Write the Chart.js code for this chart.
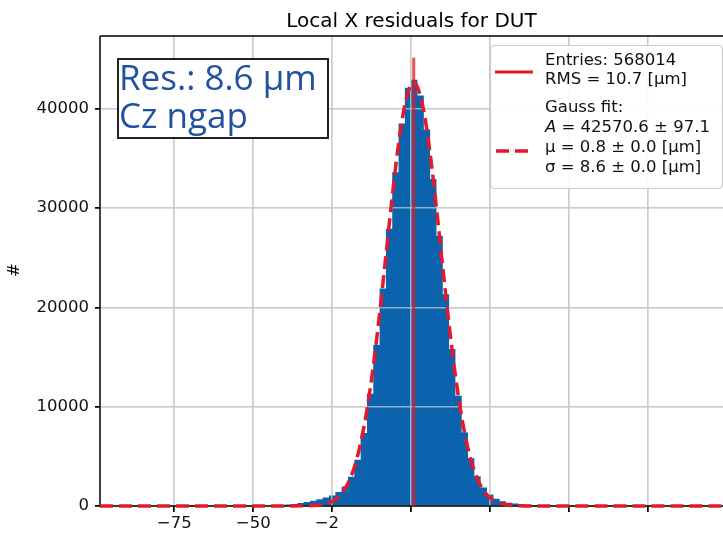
<!DOCTYPE html>
<html>
<head>
<meta charset="utf-8">
<title>Local X residuals for DUT</title>
<script src="https://cdn.jsdelivr.net/npm/chart.js@4.4.1/dist/chart.umd.min.js"></script>
<style>
html, body { margin: 0; padding: 0; background: #fff; }
canvas { display: block; }
</style>
</head>
<body>
<canvas id="resChart" width="723" height="535"></canvas>
<script>
// histogram, 2 um bins (centres) and counts
const binCenters = [-47, -45, -43, -41, -39, -37, -35, -33, -31, -29, -27, -25, -23, -21, -19, -17,
    -15, -13, -11, -9, -7, -5, -3, -1, 1, 3, 5, 7, 9, 11, 13, 15,
    17, 19, 21, 23, 25, 27, 29, 31, 33, 35, 37, 39, 41, 43, 45, 47];
const binCounts = [0, 30, 60, 100, 150, 210, 290, 390, 520, 680, 850, 1050, 1400, 1950, 2950, 4650,
    7350, 11300, 16200, 21900, 27900, 33600, 38500, 42100, 42900, 41300, 37900, 32900, 27200, 21300, 15800, 11100,
    7400, 4800, 3000, 1850, 1150, 720, 470, 330, 240, 170, 115, 75, 45, 25, 12, 0];

// gauss fit (dashed red)
const fitX = [-98.5, -40, -34, -32, -30, -28, -26, -24, -22, -20, -18, -16, -14, -12, -10, -8, -6, -4, -2,
    0, 1, 2, 4, 6, 8, 10, 12, 14, 16, 18, 20, 22, 24, 26, 28, 30, 32, 34, 40, 98.7];
const fitY = [0, 0, 15, 35, 70, 155, 330, 670, 1270, 2290, 3900, 6320, 9680, 14060, 19350, 25220, 31140, 36430, 40370,
    42400, 42570, 42150, 39720, 35460, 29990, 24020, 18230, 13110, 8930, 5760, 3520, 2040, 1120, 580, 290, 135, 60, 25, 0, 0];

// mean marker
const meanX = 0.8;
const meanTop = 45100;

const xRange = [-98.5, 98.7];
const yRange = [0, 47300];
const xTicks = [-75, -50, -25, 0, 25, 50, 75];
const yTicks = [0, 10000, 20000, 30000, 40000];

const legendEntries = ["Entries: 568014", "RMS = 10.7 [μm]"];
const legendFit = ["Gauss fit:", "A", " = 42570.6 ± 97.1", "μ = 0.8 ± 0.0 [μm]", "σ = 8.6 ± 0.0 [μm]"];
const noteLines = ["Res.: 8.6 μm", "Cz ngap"];

const BLUE = "#0b63ae";
const RED = "#e3192c";
const FONT = "DejaVu Sans";

const histData = binCenters.map((x, i) => ({ x: x, y: binCounts[i] }));
const fitData = fitX.map((x, i) => ({ x: x, y: fitY[i] }));

// grid + frame on top of the histogram (matplotlib draws it over the bars here)
const frameAndGrid = {
    id: "frameAndGrid",
    afterDatasetDraw(chart, args) {
        if (args.index !== 2) return;
        const ctx = chart.ctx;
        const a = chart.chartArea;
        chart.scales.x.drawGrid(a);
        chart.scales.y.drawGrid(a);
        ctx.save();
        ctx.strokeStyle = "#000";
        ctx.lineWidth = 1.5;
        ctx.beginPath();
        ctx.moveTo(a.left, a.top);
        ctx.lineTo(a.right, a.top);
        ctx.moveTo(a.left, a.top);
        ctx.lineTo(a.left, a.bottom);
        ctx.lineTo(a.right, a.bottom);
        ctx.stroke();
        ctx.restore();
    },
    afterDraw(chart) {
        const ctx = chart.ctx;
        const a = chart.chartArea;
        ctx.save();

        // title
        ctx.fillStyle = "#000";
        ctx.font = "20px '" + FONT + "'";
        ctx.textAlign = "center";
        ctx.textBaseline = "alphabetic";
        ctx.fillText("Local X residuals for DUT", (a.left + a.right) / 2, 27);

        // y label
        ctx.save();
        ctx.translate(15, 270);
        ctx.rotate(-Math.PI / 2);
        ctx.font = "16.5px '" + FONT + "'";
        ctx.textBaseline = "middle";
        ctx.fillText("#", 0, 0);
        ctx.restore();

        // the source picture has the lower right tick labels blanked out
        ctx.fillStyle = "#fff";
        ctx.fillRect(338, 513, 400, 30);

        // annotation box
        ctx.fillStyle = "#fff";
        ctx.fillRect(118, 59, 210, 79);
        ctx.strokeStyle = "#222";
        ctx.lineWidth = 2;
        ctx.strokeRect(118, 59, 210, 79);
        ctx.fillStyle = "#2152a1";
        ctx.font = "35px 'Open Sans'";
        ctx.textAlign = "left";
        ctx.fillText(noteLines[0], 119, 90);
        ctx.fillText(noteLines[1], 119, 128);

        // legend
        const lx = 490, ly = 45, lw = 232, lh = 143;
        ctx.beginPath();
        ctx.roundRect(lx + 0.5, ly + 0.5, lw, lh, 4);
        ctx.fillStyle = "rgba(255,255,255,0.9)";
        ctx.fill();
        ctx.strokeStyle = "#cccccc";
        ctx.lineWidth = 1.2;
        ctx.stroke();

        ctx.strokeStyle = RED;
        ctx.lineWidth = 3;
        ctx.beginPath();
        ctx.moveTo(495, 72);
        ctx.lineTo(533, 72);
        ctx.stroke();
        ctx.lineWidth = 3.5;
        ctx.setLineDash([13, 6]);
        ctx.beginPath();
        ctx.moveTo(496, 151);
        ctx.lineTo(530, 151);
        ctx.stroke();
        ctx.setLineDash([]);

        ctx.fillStyle = "#111";
        ctx.font = "16.5px '" + FONT + "'";
        ctx.textBaseline = "middle";
        const tx = 545;
        ctx.fillText(legendEntries[0], tx, 61);
        ctx.fillText(legendEntries[1], tx, 80);
        ctx.fillText(legendFit[0], tx, 108);
        ctx.font = "italic 16.5px '" + FONT + "'";
        ctx.fillText(legendFit[1], tx, 128);
        const aw = ctx.measureText(legendFit[1]).width;
        ctx.font = "16.5px '" + FONT + "'";
        ctx.fillText(legendFit[2], tx + aw, 128);
        ctx.fillText(legendFit[3], tx, 148);
        ctx.fillText(legendFit[4], tx, 168);

        ctx.restore();
    }
};

const ctx = document.getElementById("resChart");

new Chart(ctx, {
    type: "line",
    data: {
        datasets: [
            {
                label: "Gauss fit",
                data: fitData,
                borderColor: RED,
                borderWidth: 3.5,
                borderDash: [13, 6],
                pointRadius: 0,
                fill: false,
                cubicInterpolationMode: "monotone",
                clip: { left: 0, top: 0, right: 0, bottom: 5 },
                order: 1
            },
            {
                label: "Mean",
                data: [{ x: meanX, y: 0 }, { x: meanX, y: meanTop }],
                borderColor: "rgba(225,25,35,0.75)",
                borderWidth: 3,
                pointRadius: 0,
                fill: false,
                clip: false,
                order: 2
            },
            {
                label: "Residuals",
                data: histData,
                stepped: "middle",
                borderWidth: 0,
                borderColor: BLUE,
                backgroundColor: BLUE,
                pointRadius: 0,
                fill: "origin",
                order: 3
            }
        ]
    },
    options: {
        responsive: false,
        animation: false,
        devicePixelRatio: 1,
        layout: {
            padding: { top: 36, left: 0, right: 0, bottom: 0 }
        },
        plugins: {
            legend: { display: false },
            tooltip: { enabled: false },
            title: { display: false }
        },
        scales: {
            x: {
                type: "linear",
                min: xRange[0],
                max: xRange[1],
                border: { display: false },
                grid: {
                    color: "rgba(200,200,200,0.75)",
                    lineWidth: 1.5,
                    tickColor: "#000",
                    tickLength: 6,
                    tickWidth: 1.5
                },
                ticks: {
                    maxRotation: 0,
                    padding: 2,
                    color: "#111",
                    font: { family: FONT, size: 16.5 },
                    callback: v => v < 0 ? "\u2212" + Math.abs(v) : String(v)
                },
                afterBuildTicks: s => { s.ticks = xTicks.map(v => ({ value: v })); },
                afterFit: s => { s.height = 29; }
            },
            y: {
                min: yRange[0],
                max: yRange[1],
                border: { display: false },
                grid: {
                    color: "rgba(200,200,200,0.75)",
                    lineWidth: 1.5,
                    tickColor: "#000",
                    tickLength: 5,
                    tickWidth: 1.5
                },
                ticks: {
                    padding: 6,
                    color: "#111",
                    font: { family: FONT, size: 16.5 },
                    callback: v => String(v)
                },
                afterBuildTicks: s => { s.ticks = yTicks.map(v => ({ value: v })); },
                afterFit: s => { s.width = 100; }
            }
        }
    },
    plugins: [frameAndGrid]
});
</script>
</body>
</html>
